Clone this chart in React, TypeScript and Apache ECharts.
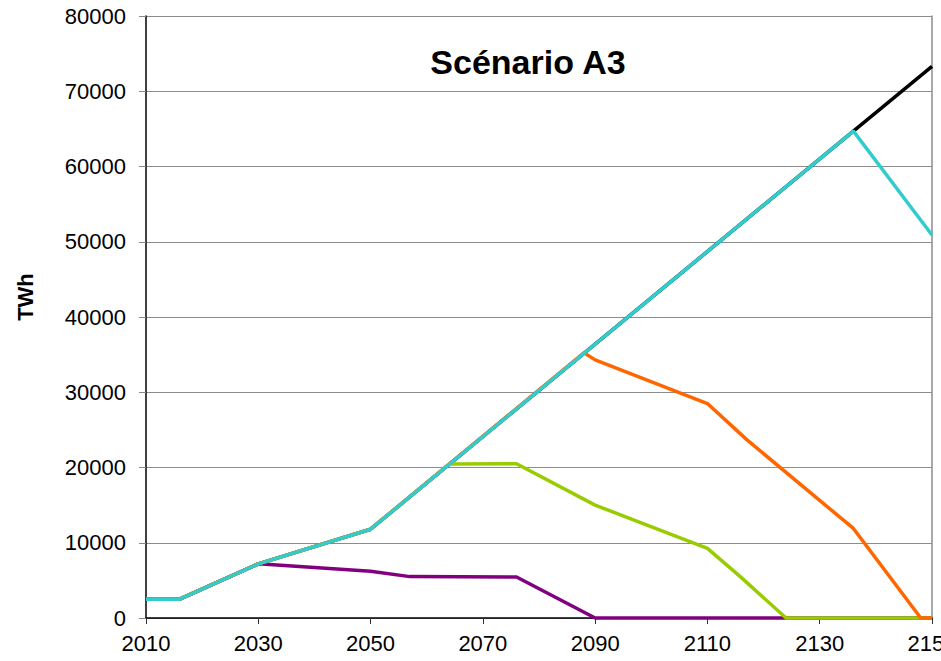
import React, { useEffect, useRef } from "react";
import * as echarts from "echarts";

const xTicks = [2010, 2030, 2050, 2070, 2090, 2110, 2130, 2150];

const totalYears = [2010, 2016, 2030, 2050, 2136, 2150];
const totalValues = [2500, 2500, 7200, 11800, 64700, 73300];

const purpleYears = [2010, 2016, 2030, 2050, 2057, 2076, 2090, 2150];
const purpleValues = [2500, 2500, 7200, 6200, 5500, 5450, 0, 0];

const greenYears = [2010, 2016, 2030, 2050, 2064, 2076, 2090, 2110, 2116, 2124, 2150];
const greenValues = [2500, 2500, 7200, 11800, 20450, 20500, 15000, 9250, 5400, 0, 0];

const orangeYears = [2010, 2016, 2030, 2050, 2088, 2090, 2110, 2117, 2136, 2148, 2150];
const orangeValues = [2500, 2500, 7200, 11800, 35250, 34300, 28500, 23700, 11900, 0, 0];

const cyanYears = [2010, 2016, 2030, 2050, 2136, 2150];
const cyanValues = [2500, 2500, 7200, 11800, 64700, 50900];

const pairs = (xs: number[], ys: number[]) => xs.map((x, i) => [x, ys[i]]);

export default function App() {
  const ref = useRef<HTMLDivElement>(null);
  useEffect(() => {
    if (!ref.current) return;
    const chart = echarts.init(ref.current, undefined, { renderer: "svg", width: 941, height: 661 });
    const font = "'Liberation Sans', Arial, sans-serif";
    const mk = (name: string, color: string, xs: number[], ys: number[]) => ({
      type: "line",
      name,
      data: pairs(xs, ys),
      showSymbol: false,
      symbol: "none",
      lineStyle: { color, width: 3.5 },
      itemStyle: { color },
      clip: false,
    });
    chart.setOption({
      animation: false,
      backgroundColor: "#ffffff",
      grid: {
        left: 146,
        top: 16,
        width: 786,
        height: 602,
        containLabel: false,
        outerBoundsMode: "none",
      },
      xAxis: {
        type: "value",
        min: 2010,
        max: 2150,
        interval: 20,
        axisLine: { show: true, onZero: false, lineStyle: { color: "#000", width: 1.5 } },
        axisTick: { show: true, inside: false, length: 6, lineStyle: { color: "#333" } },
        axisLabel: {
          margin: 14,
          fontFamily: font,
          fontSize: 22,
          color: "#000",
          formatter: (v: number) => (xTicks.includes(v) ? String(v) : ""),
        },
        splitLine: { show: false },
      },
      yAxis: [
        {
          type: "value",
          min: 0,
          max: 80000,
          interval: 10000,
          axisLine: { show: true, lineStyle: { color: "#000", width: 1.5 } },
          axisTick: { show: true, inside: false, length: 7, lineStyle: { color: "#888" } },
          axisLabel: {
            margin: 20,
            fontFamily: font,
            fontSize: 22,
            color: "#000",
            formatter: (v: number) => String(v),
          },
          splitLine: { show: true, lineStyle: { color: "#8c8c8c", width: 1 } },
        },
        {
          type: "value",
          position: "right",
          min: 0,
          max: 80000,
          interval: 10000,
          axisLine: { show: true, lineStyle: { color: "#8c8c8c", width: 1.5 } },
          axisTick: { show: false },
          axisLabel: { show: false },
          splitLine: { show: false },
        },
      ],
      graphic: [
        {
          type: "text",
          x: 528,
          y: 62,
          style: {
            text: "Scénario A3",
            font: `bold 34px ${font}`,
            fill: "#000",
            textAlign: "center",
            textVerticalAlign: "middle",
          },
        },
        {
          type: "text",
          x: 25,
          y: 297,
          rotation: Math.PI / 2,
          style: {
            text: "TWh",
            font: `bold 22px ${font}`,
            fill: "#000",
            textAlign: "center",
            textVerticalAlign: "middle",
          },
        },
      ],
      series: [
        mk("Total", "#000000", totalYears, totalValues),
        mk("Violet", "#800080", purpleYears, purpleValues),
        mk("Vert", "#99CC00", greenYears, greenValues),
        mk("Orange", "#FF6600", orangeYears, orangeValues),
        mk("Cyan", "#33CCCC", cyanYears, cyanValues),
      ],
    });
    return () => chart.dispose();
  }, []);
  return (
    <div
      ref={ref}
      style={{ position: "fixed", left: 0, top: 0, width: 941, height: 661, background: "#fff" }}
    />
  );
}
